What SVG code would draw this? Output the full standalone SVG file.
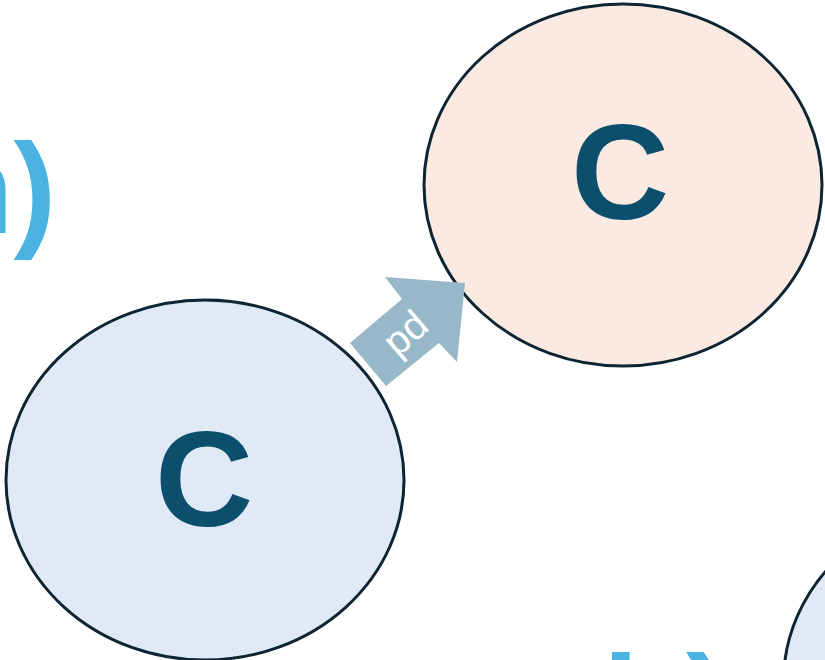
<svg xmlns="http://www.w3.org/2000/svg" width="825" height="660" viewBox="0 0 825 660">
<style>
.node{stroke:#0D2433;stroke-width:3}
.lbl{font-family:"Liberation Sans",Arial,sans-serif;font-weight:bold;font-size:136px;fill:#0B4F6C;text-anchor:middle}
.cap{font-family:"Liberation Sans",Arial,sans-serif;font-weight:bold;font-size:128px;fill:#4AB3E2}
</style>
<rect width="825" height="660" fill="#FFFFFF"/>
<text class="cap" x="56" y="233" text-anchor="end">n)</text>
<text class="cap" y="745"><tspan x="603">b</tspan><tspan x="686">)</tspan></text>
<g id="node-left">
<ellipse class="node" cx="205" cy="480" rx="199" ry="180" fill="#DFEAF6"/>
<text class="lbl" x="204" y="526">C</text>
</g>
<g id="node-right">
<ellipse class="node" cx="623" cy="185" rx="199" ry="181" fill="#FBEAE2"/>
<text class="lbl" x="620" y="219">C</text>
</g>
<g id="node-partial">
<ellipse class="node" cx="982.5" cy="682" rx="199" ry="180" fill="#DFEAF6"/>
</g>
<g id="connectors">
<polygon points="350,343 402,299 385,277 465,283 457,362 439,343 386,386" fill="#97B8C8"/>
<text x="407" y="346" transform="rotate(-41 407 335)" font-family="'Liberation Sans',Arial,sans-serif" font-size="40" fill="#FFFFFF" text-anchor="middle">pd</text>
</g>
</svg>
